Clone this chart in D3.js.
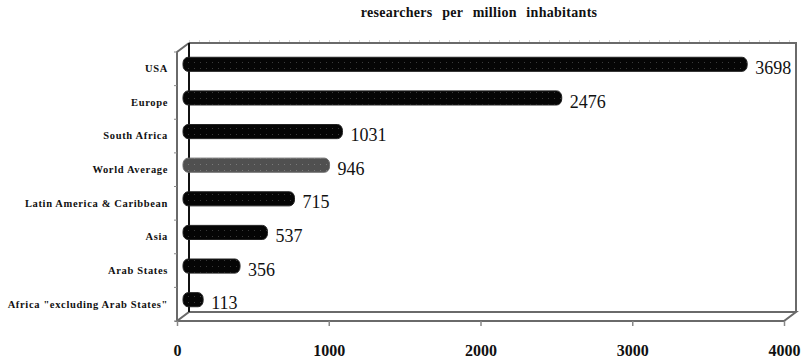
<!DOCTYPE html>
<html>
<head>
<meta charset="utf-8">
<script src="https://cdn.jsdelivr.net/npm/d3@7/dist/d3.min.js"></script>
<style>
  html, body { margin: 0; padding: 0; background: #fff; }
  svg { display: block; }
</style>
</head>
<body>
<svg id="chart" width="810" height="362"></svg>
<script>
// Researchers per million inhabitants, by region
const categories = [
  "USA",
  "Europe",
  "South Africa",
  "World Average",
  "Latin America & Caribbean",
  "Asia",
  "Arab States",
  "Africa \"excluding Arab States\""
];
const values = [3698, 2476, 1031, 946, 715, 537, 356, 113];
const highlighted = ["World Average"];
const xTicks = [0, 1000, 2000, 3000, 4000];
const titleText = "researchers  per  million  inhabitants";

const svg = d3.select("#chart");
const serif = "'Liberation Serif', 'DejaVu Serif', serif";

// front plane of the 3-D box
const x = d3.scaleLinear().domain([0, 4000]).range([177, 784]);
const y = d3.scaleBand().domain(categories).range([52, 321])
  .paddingInner(0.58).paddingOuter(0.29);

// depth offset of the back wall
const dx = 12, dy = -9;
const x0 = x(0), x1 = x(4000), yTop = 52, yBot = 321;

// dotted texture used on the bars
const defs = svg.append("defs");
function dotPattern(id, base, dot) {
  const p = defs.append("pattern").attr("id", id)
    .attr("patternUnits", "userSpaceOnUse").attr("width", 6).attr("height", 6);
  p.append("rect").attr("width", 6).attr("height", 6).attr("fill", base);
  p.append("rect").attr("x", 2).attr("y", 2).attr("width", 1).attr("height", 1).attr("fill", dot);
}
dotPattern("dotsDark", "#050505", "#3a3a3a");
dotPattern("dotsGray", "#505050", "#7a7a7a");

// title
svg.append("text")
  .attr("x", 479).attr("y", 14)
  .attr("text-anchor", "middle").attr("dominant-baseline", "middle")
  .attr("font-family", serif).attr("font-weight", "bold").attr("font-size", 14)
  .attr("letter-spacing", 0.3).attr("word-spacing", 1)
  .attr("fill", "#111")
  .style("white-space", "pre")
  .text(titleText);

// box outline
const frame = svg.append("g").attr("fill", "none").attr("stroke", "#6a6a6a").attr("stroke-width", 2);
// back wall top and right
frame.append("path").attr("d",
  `M${x0 + dx},${yTop + dy} L${x1 + dx},${yTop + dy} L${x1 + dx},${yBot + dy}`);
// light dotted rim above the top edge
svg.append("line")
  .attr("x1", x0 + dx).attr("x2", x1 + dx)
  .attr("y1", yTop + dy - 2).attr("y2", yTop + dy - 2)
  .attr("stroke", "#b0b0b0").attr("stroke-width", 1).attr("stroke-dasharray", "1,9");
// floor
frame.append("path").attr("d",
  `M${x0 + dx},${yBot + dy} L${x1 + dx},${yBot + dy} L${x1},${yBot} L${x0},${yBot} Z`);
// left wall
frame.append("path").attr("d",
  `M${x0},${yBot} L${x0},${yTop} L${x0 + dx},${yTop + dy}`);
// category axis line on the back wall
svg.append("line")
  .attr("x1", x0 + dx).attr("x2", x0 + dx)
  .attr("y1", yTop + dy).attr("y2", yBot + dy)
  .attr("stroke", "#111").attr("stroke-width", 2);

// small ticks on the left wall between categories
const step = y.step();
svg.append("g").selectAll("line")
  .data(d3.range(categories.length + 1))
  .join("line")
  .attr("x1", x0 - 3).attr("x2", x0)
  .attr("y1", i => yTop + i * step).attr("y2", i => yTop + i * step)
  .attr("stroke", "#888").attr("stroke-width", 1);

// value axis along the front edge of the floor
const xAxis = svg.append("g")
  .attr("transform", `translate(0,${yBot})`)
  .call(d3.axisBottom(x).tickValues(xTicks).tickSize(5).tickFormat(d3.format("d")));
xAxis.select(".domain").remove();
xAxis.selectAll(".tick line").attr("stroke", "#888").attr("stroke-width", 1.5);
xAxis.selectAll(".tick text")
  .attr("y", 29).attr("dy", "0.35em")
  .attr("font-family", serif).attr("font-weight", "bold").attr("font-size", 16)
  .attr("fill", "#111");

// category labels
const yAxis = svg.append("g")
  .attr("transform", `translate(${x0},0)`)
  .call(d3.axisLeft(y).tickSize(0).tickPadding(9));
yAxis.select(".domain").remove();
yAxis.selectAll(".tick text")
  .attr("font-family", serif).attr("font-weight", "bold").attr("font-size", 10.5)
  .attr("letter-spacing", 0.65)
  .attr("fill", "#111");

// bars sit halfway into the box depth
const bx = dx / 2, by = dy / 2;
const rows = categories.map((c, i) => ({ c, v: values[i] }));
svg.append("g").selectAll("rect")
  .data(rows)
  .join("rect")
  .attr("x", x(0) + bx)
  .attr("y", d => y(d.c) + by)
  .attr("width", d => x(d.v) - x(0) + 3)
  .attr("height", y.bandwidth())
  .attr("rx", 5).attr("ry", 6)
  .attr("fill", d => highlighted.includes(d.c) ? "url(#dotsGray)" : "url(#dotsDark)")
  .attr("stroke", d => highlighted.includes(d.c) ? "#6a6a6a" : "#222")
  .attr("stroke-width", 1);

// value labels
svg.append("g").selectAll("text")
  .data(rows)
  .join("text")
  .attr("x", d => x(d.v) + 17)
  .attr("y", d => y(d.c) + y.bandwidth() / 2 + 1)
  .attr("dominant-baseline", "middle")
  .attr("font-family", serif).attr("font-size", 18)
  .attr("fill", "#111")
  .text(d => d.v);
</script>
</body>
</html>
